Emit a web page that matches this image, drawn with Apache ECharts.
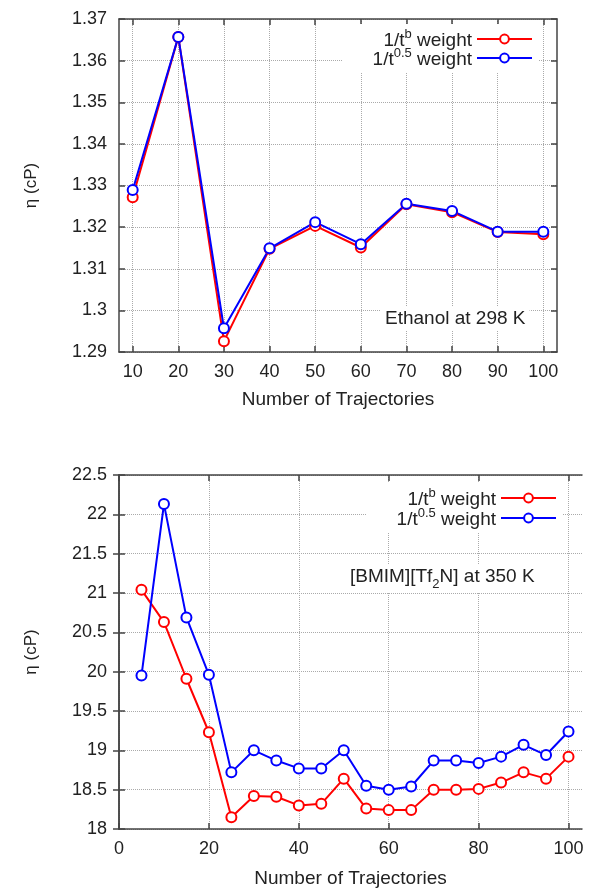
<!DOCTYPE html>
<html lang="en">
<head>
  <meta charset="UTF-8">
  <title>Viscosity vs number of trajectories</title>
</head>
<body style="margin:0; background-color:#fff;">
<div id="main" style="width:590px; height:890px;"></div>

<script src="https://cdn.jsdelivr.net/npm/echarts@6/dist/echarts.min.js"></script>

<script>
  // ethanol at 298 K
  var ethTraj = [10, 20, 30, 40, 50, 60, 70, 80, 90, 100];
  var ethB    = [1.3272, 1.3657, 1.2926, 1.3148, 1.3203, 1.3151, 1.3255, 1.3236, 1.3188, 1.3183];
  var eth05   = [1.3289, 1.3657, 1.2957, 1.3149, 1.3212, 1.3159, 1.3256, 1.3239, 1.3189, 1.3189];
  var ethTicks = [10, 20, 30, 40, 50, 60, 70, 80, 90, 100];

  // [BMIM][Tf2N] at 350 K
  var ilTraj = [5, 10, 15, 20, 25, 30, 35, 40, 45, 50, 55, 60, 65, 70, 75, 80, 85, 90, 95, 100];
  var ilB    = [21.04, 20.63, 19.91, 19.23, 18.15, 18.42, 18.41, 18.30, 18.32, 18.64,
                18.26, 18.24, 18.24, 18.50, 18.50, 18.51, 18.59, 18.72, 18.64, 18.92];
  var il05   = [19.95, 22.13, 20.69, 19.96, 18.72, 19.00, 18.87, 18.77, 18.77, 19.00,
                18.55, 18.50, 18.54, 18.87, 18.87, 18.84, 18.92, 19.07, 18.94, 19.24];
  var ilTicks = [0, 20, 40, 60, 80, 100];

  var nameB = '1/t^b weight';
  var name05 = '1/t^0.5 weight';

  function pairs(xs, ys) {
    return xs.map(function (x, i) { return [x, ys[i]]; });
  }

  var FONT = 'Liberation Sans';
  var TXT = '#222';
  var AXIS = '#444';

  var richLegend = {
    n: { fontSize: 19, fontFamily: FONT, color: TXT, verticalAlign: 'bottom' },
    sup: { fontSize: 13, fontFamily: FONT, color: TXT, verticalAlign: 'bottom', padding: [0, 0, 9, 0] }
  };

  function legendFmt(name) {
    if (name === nameB) return '{n|1/t}{sup|b}{n| weight}';
    return '{n|1/t}{sup|0.5}{n| weight}';
  }

  function xMain(idx, min, max, ticks, nameGap) {
    return {
      type: 'value', gridIndex: idx, min: min, max: max, position: 'bottom',
      name: 'Number of Trajectories', nameLocation: 'middle', nameGap: nameGap,
      nameTextStyle: { fontSize: 19, fontFamily: FONT, color: TXT },
      axisLine: { lineStyle: { color: AXIS, width: 1.5 } },
      axisTick: { inside: true, length: 6, customValues: ticks, lineStyle: { color: AXIS, width: 1.5 } },
      axisLabel: { customValues: ticks, margin: 11, fontSize: 18, fontFamily: FONT, color: TXT },
      splitLine: { show: true, lineStyle: { type: 'dotted', color: '#aaa' } }
    };
  }
  function xMirror(idx, min, max, ticks) {
    return {
      type: 'value', gridIndex: idx, min: min, max: max, position: 'top',
      axisLine: { lineStyle: { color: AXIS, width: 1.5 } },
      axisTick: { inside: true, length: 6, customValues: ticks, lineStyle: { color: AXIS, width: 1.5 } },
      axisLabel: { show: false },
      splitLine: { show: false }
    };
  }
  function yMain(idx, min, max, step) {
    return {
      type: 'value', gridIndex: idx, min: min, max: max, interval: step, position: 'left',
      name: 'η (cP)', nameLocation: 'middle', nameGap: 79, nameRotate: 90,
      nameTextStyle: { fontSize: 17, fontFamily: FONT, color: TXT },
      axisLine: { show: true, lineStyle: { color: AXIS, width: 1.5 } },
      axisTick: { show: true, inside: true, length: 6, lineStyle: { color: AXIS, width: 1.5 } },
      axisLabel: { margin: 12, fontSize: 18, fontFamily: FONT, color: TXT },
      splitLine: { show: true, lineStyle: { type: 'dotted', color: '#aaa' } }
    };
  }
  function yMirror(idx, min, max, step) {
    return {
      type: 'value', gridIndex: idx, min: min, max: max, interval: step, position: 'right',
      axisLine: { show: true, lineStyle: { color: AXIS, width: 1.5 } },
      axisTick: { show: true, inside: true, length: 6, lineStyle: { color: AXIS, width: 1.5 } },
      axisLabel: { show: false },
      splitLine: { show: false }
    };
  }

  function lineSeries(name, color, data, xi, yi) {
    return {
      name: name, type: 'line', data: data,
      xAxisIndex: xi, yAxisIndex: yi,
      symbol: 'emptyCircle', symbolSize: 10,
      lineStyle: { color: color, width: 2 },
      itemStyle: { color: color, borderColor: color, borderWidth: 2 },
      emphasis: { disabled: true },
      animation: false
    };
  }

  var myChart = echarts.init(document.getElementById('main'));

  var option = {
    backgroundColor: '#fff',
    animation: false,
    grid: [
      { left: 119, top: 19, width: 438, height: 333 },
      { left: 119, top: 475, width: 463, height: 354 }
    ],
    xAxis: [
      xMain(0, 7, 103, ethTicks, 38),
      xMirror(0, 7, 103, ethTicks),
      xMain(1, 0, 103, ilTicks, 40),
      xMirror(1, 0, 103, ilTicks)
    ],
    yAxis: [
      yMain(0, 1.29, 1.37, 0.01),
      yMirror(0, 1.29, 1.37, 0.01),
      yMain(1, 18, 22.5, 0.5),
      yMirror(1, 18, 22.5, 0.5)
    ],
    legend: [
      {
        data: [nameB, name05], orient: 'vertical', align: 'right',
        right: 52, top: 24, itemWidth: 55, itemHeight: 11, itemGap: -3,
        backgroundColor: '#fff', padding: [4, 5, 4, 30],
        selectedMode: false, formatter: legendFmt,
        textStyle: { rich: richLegend }
      },
      {
        data: [nameB, name05], orient: 'vertical', align: 'right',
        right: 28, top: 483, itemWidth: 55, itemHeight: 11, itemGap: -2,
        backgroundColor: '#fff', padding: [4, 5, 4, 30],
        selectedMode: false, formatter: legendFmt,
        textStyle: { rich: richLegend }
      }
    ],
    title: [
      {
        text: 'Ethanol at 298 K', left: 381, top: 307,
        backgroundColor: '#fff', padding: [2, 4],
        textStyle: { fontSize: 19, fontWeight: 'normal', fontFamily: FONT, color: TXT }
      },
      {
        text: '{n|[BMIM][Tf}{sub|2}{n|N] at 350 K}', left: 346, top: 565,
        backgroundColor: '#fff', padding: [2, 4],
        textStyle: {
          fontWeight: 'normal',
          rich: {
            n: { fontSize: 19, fontWeight: 'normal', fontFamily: FONT, color: TXT, verticalAlign: 'bottom', padding: [0, 0, 5, 0] },
            sub: { fontSize: 13, fontWeight: 'normal', fontFamily: FONT, color: TXT, verticalAlign: 'bottom' }
          }
        }
      }
    ],
    series: [
      lineSeries(nameB, '#ff0000', pairs(ethTraj, ethB), 0, 0),
      lineSeries(name05, '#0000ff', pairs(ethTraj, eth05), 0, 0),
      lineSeries(nameB, '#ff0000', pairs(ilTraj, ilB), 2, 2),
      lineSeries(name05, '#0000ff', pairs(ilTraj, il05), 2, 2)
    ]
  };

  myChart.setOption(option);
</script>
</body>
</html>
